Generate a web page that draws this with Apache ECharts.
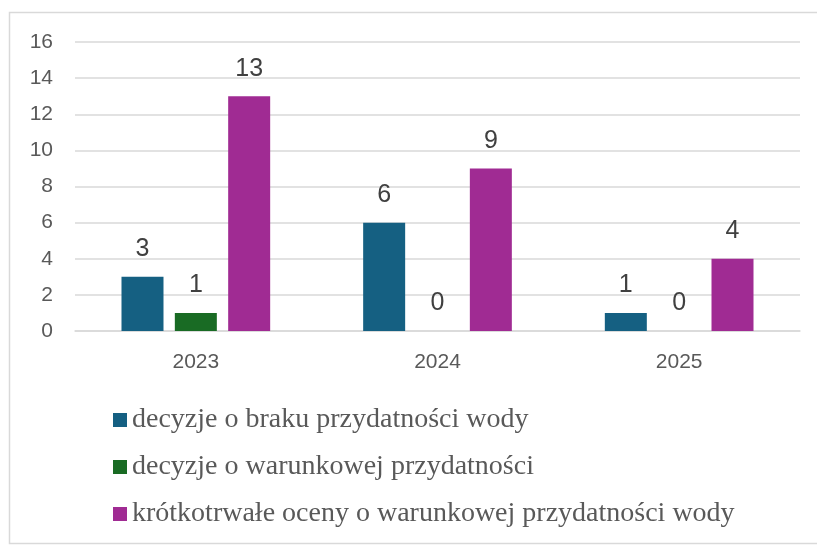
<!DOCTYPE html>
<html><head><meta charset="utf-8">
<script src="https://cdn.jsdelivr.net/npm/echarts@6/dist/echarts.min.js"></script>
<style>html,body{margin:0;padding:0;background:#fff}#c{width:817px;height:547px}</style>
</head><body><div id="c"></div>
<script>
const categories = ['2023', '2024', '2025'];
const seriesNames = [
  'decyzje o braku przydatności wody',
  'decyzje o warunkowej przydatności',
  'krótkotrwałe oceny o warunkowej przydatności wody'
];
const braku = [3, 6, 1];
const warunkowej = [1, 0, 0];
const krotkotrwale = [13, 9, 4];
const colors = ['#156082', '#196B24', '#A02B93'];

const chart = echarts.init(document.getElementById('c'));
const mk = (name, data, color) => ({
  name, type: 'bar', data, barWidth: 42, barGap: '27%',
  itemStyle: { color },
  label: { show: true, position: 'top', distance: 15, fontFamily: 'Liberation Sans, Arial', fontSize: 25, color: '#404040' }
});
chart.setOption({
  animation: false,
  graphic: [{ type: 'rect', shape: { x: 9.5, y: 12.5, width: 812, height: 531 }, style: { fill: 'none', stroke: '#d9d9d9', lineWidth: 1.5 } }],
  grid: { left: 75, right: 17, top: 42, height: 289, containLabel: false },
  xAxis: {
    type: 'category', data: categories,
    axisLine: { show: true, lineStyle: { color: '#d9d9d9', width: 1.5 } },
    axisTick: { show: false },
    axisLabel: { fontFamily: 'Liberation Sans, Arial', fontSize: 21, color: '#595959', margin: 21 }
  },
  yAxis: {
    type: 'value', min: 0, max: 16, interval: 2,
    axisLine: { show: false }, axisTick: { show: false },
    splitLine: { lineStyle: { color: '#d9d9d9', width: 1.5 } },
    axisLabel: { fontFamily: 'Liberation Sans, Arial', fontSize: 21, color: '#595959', margin: 22 }
  },
  legend: {
    orient: 'vertical', left: 108, top: 401,
    itemWidth: 14, itemHeight: 14, itemGap: 19, icon: 'rect',
    textStyle: { fontFamily: 'Liberation Serif, Times New Roman', fontSize: 28, color: '#595959', lineHeight: 28 },
    data: seriesNames
  },
  series: [mk(seriesNames[0], braku, colors[0]), mk(seriesNames[1], warunkowej, colors[1]), mk(seriesNames[2], krotkotrwale, colors[2])]
});
</script></body></html>
